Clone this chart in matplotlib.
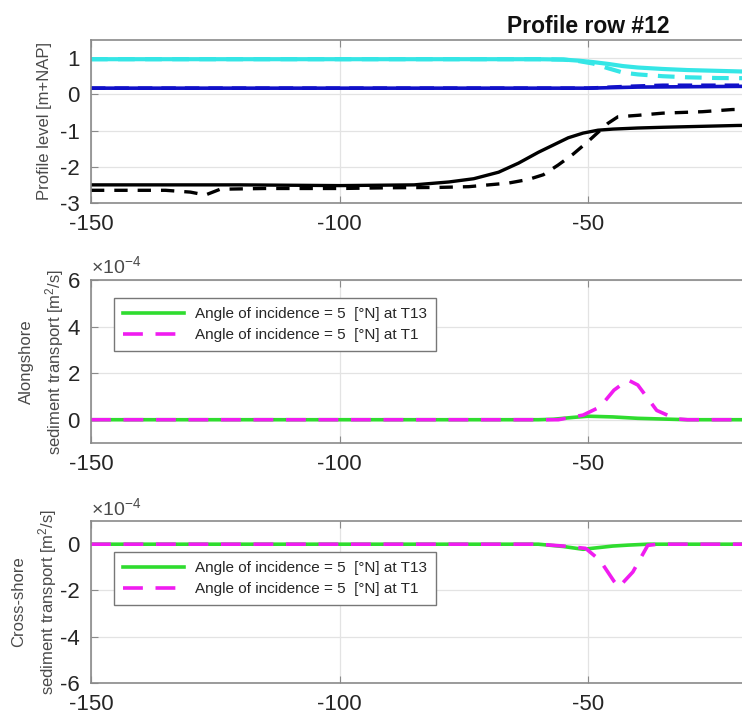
import matplotlib
matplotlib.use("Agg")
import matplotlib.pyplot as plt
from matplotlib.ticker import FuncFormatter

plt.rcParams['font.family'] = ['Liberation Sans', 'DejaVu Sans']
plt.rcParams['axes.unicode_minus'] = False
plt.rcParams['mathtext.fontset'] = 'custom'
plt.rcParams['mathtext.rm'] = 'Liberation Sans'
plt.rcParams['mathtext.it'] = 'Liberation Sans:italic'

# ---------------- data ----------------
title = "Profile row #12"
xticks = [-150, -100, -50]

# Profile level panel
blk_sol_x = [-150, -120, -100, -85, -78, -73, -68, -64, -60, -57, -54, -51, -48, -45, -40, -35, -20, 0, 20, 50]
blk_sol_y = [-2.5, -2.5, -2.52, -2.5, -2.42, -2.33, -2.15, -1.9, -1.6, -1.4, -1.2, -1.07, -0.99, -0.96, -0.93, -0.91, -0.86, -0.83, -0.8, -0.78]
blk_das_x = [-150, -135, -130, -127, -124, -115, -100, -90, -80, -74, -70, -66, -62, -59, -56, -53, -50, -48, -46, -44, -40, -35, -27, -21, 0, 20, 50]
blk_das_y = [-2.65, -2.65, -2.7, -2.78, -2.62, -2.6, -2.6, -2.58, -2.57, -2.55, -2.5, -2.45, -2.35, -2.22, -1.95, -1.65, -1.3, -1.05, -0.8, -0.62, -0.58, -0.52, -0.48, -0.42, -0.38, -0.35, -0.33]
cya_sol_x = [-150, -100, -60, -55, -52, -49, -46, -43, -40, -35, -30, -19, 0, 50]
cya_sol_y = [0.97, 0.97, 0.97, 0.96, 0.93, 0.89, 0.84, 0.78, 0.74, 0.7, 0.67, 0.63, 0.6, 0.57]
cya_das_x = [-150, -100, -60, -55, -52, -49, -46, -43, -40, -35, -30, -24, 0, 50]
cya_das_y = [0.97, 0.97, 0.97, 0.96, 0.92, 0.85, 0.72, 0.6, 0.55, 0.5, 0.47, 0.45, 0.43, 0.42]
blu_sol_x = [-150, -50, -40, -19, 50]
blu_sol_y = [0.17, 0.17, 0.2, 0.22, 0.25]
blu_das_x = [-150, -50, -42, -35, -19, 50]
blu_das_y = [0.17, 0.17, 0.22, 0.25, 0.25, 0.25]

# Alongshore transport panel [m2/s]
al_t13_x = [-150, -60, -57, -53, -50, -45, -40, -35, -30, 50]
al_t13_y = [0, 0, 0.02e-4, 0.1e-4, 0.15e-4, 0.12e-4, 0.06e-4, 0.03e-4, 0, 0]
al_t1_x = [-150, -56, -51, -47.6, -44.8, -42, -40, -36.2, -32.4, -30, 50]
al_t1_y = [0, 0, 0.2e-4, 0.55e-4, 1.27e-4, 1.71e-4, 1.49e-4, 0.4e-4, 0.04e-4, 0, 0]

# Cross-shore transport panel [m2/s]
cs_t13_x = [-150, -60, -55, -51, -48, -45, -42, -38, 50]
cs_t13_y = [0, 0, -0.1e-4, -0.22e-4, -0.15e-4, -0.08e-4, -0.04e-4, 0, 0]
cs_t1_x = [-150, -60, -55, -50.5, -47.6, -44.8, -43.8, -41, -38, -36, 50]
cs_t1_y = [0, 0, -0.08e-4, -0.18e-4, -0.7e-4, -1.6e-4, -1.85e-4, -1.2e-4, -0.05e-4, 0, 0]

legend_labels = ["Angle of incidence = 5  [\u00b0N] at T13", "Angle of incidence = 5  [\u00b0N] at T1"]

# ---------------- style ----------------
SPINE = '#8a8a8a'
TXT = '#262626'
LBL = '#4a4a4a'
GREEN = '#2fdc2f'
MAG = '#f01cf0'
CYAN = '#35e6e6'
BLUE = '#1010c8'
DASH = (5.5, 3.5)

fig = plt.figure(figsize=(7.42, 7.18), dpi=100)
W = 1.34
ax1 = fig.add_axes([0.1226, 0.7173, W, 0.227])
ax2 = fig.add_axes([0.1226, 0.383, W, 0.227])
ax3 = fig.add_axes([0.1226, 0.0487, W, 0.2256])

def style(ax):
    ax.set_xlim(-150, 50)
    ax.set_xticks(xticks)
    ax.grid(True, color='#e3e3e3', lw=0.9)
    ax.set_axisbelow(True)
    for s in ax.spines.values():
        s.set_color(SPINE)
        s.set_linewidth(1.2)
    ax.tick_params(direction='in', length=5, width=0.8, color=SPINE, top=True, right=True,
                   labelsize=16, labelcolor=TXT, pad=8)

# top panel
ax1.plot(cya_sol_x, cya_sol_y, color=CYAN, lw=3)
ax1.plot(cya_das_x, cya_das_y, color=CYAN, lw=3, dashes=(4, 2.5))
ax1.plot(blu_sol_x, blu_sol_y, color=BLUE, lw=2.6)
ax1.plot(blu_das_x, blu_das_y, color=BLUE, lw=2.6, dashes=(4, 2.5))
ax1.plot(blk_sol_x, blk_sol_y, color='black', lw=2.4)
ax1.plot(blk_das_x, blk_das_y, color='black', lw=2.4, dashes=(4, 3))
style(ax1)
ax1.set_ylim(-3, 1.5)
ax1.set_yticks([-3, -2, -1, 0, 1])
ax1.set_ylabel("Profile level [m+NAP]", fontsize=12, color=LBL, labelpad=6)
ax1.set_title(title, fontsize=16.5, fontweight='bold', pad=5, color='#111111')

def sci(ax):
    ax.yaxis.set_major_formatter(FuncFormatter(lambda v, p: f"{v / 1e-4:g}"))
    ax.text(0.0, 1.015, "\u00d710$^{-4}$", transform=ax.transAxes, fontsize=14,
            color=LBL, ha='left', va='bottom')

def legend(ax, y):
    leg = ax.legend(loc='upper left', bbox_to_anchor=(0.023, y), fontsize=11,
                    handlelength=4.0, fancybox=False, framealpha=1, edgecolor='#777777',
                    borderpad=0.6, labelspacing=0.45, handletextpad=0.7, borderaxespad=0)
    for t in leg.get_texts():
        t.set_color(TXT)
    leg.get_frame().set_linewidth(1.0)

# middle panel
ax2.plot(al_t13_x, al_t13_y, color=GREEN, lw=2.6, label=legend_labels[0])
ax2.plot(al_t1_x, al_t1_y, color=MAG, lw=2.6, dashes=DASH, label=legend_labels[1])
style(ax2)
ax2.set_ylim(-1e-4, 6e-4)
ax2.set_yticks([0, 2e-4, 4e-4, 6e-4])
sci(ax2)
ax2.set_ylabel("Alongshore\nsediment transport [m$^2$/s]", fontsize=12, color=LBL,
               labelpad=1, linespacing=1.55)
legend(ax2, 0.89)

# bottom panel
ax3.plot(cs_t13_x, cs_t13_y, color=GREEN, lw=2.6, label=legend_labels[0])
ax3.plot(cs_t1_x, cs_t1_y, color=MAG, lw=2.6, dashes=DASH, label=legend_labels[1])
style(ax3)
ax3.set_ylim(-6e-4, 1e-4)
ax3.set_yticks([-6e-4, -4e-4, -2e-4, 0])
sci(ax3)
ax3.set_ylabel("Cross-shore\nsediment transport [m$^2$/s]", fontsize=12, color=LBL,
               labelpad=1, linespacing=1.55)
legend(ax3, 0.81)

fig.savefig("out.png", dpi=100)
